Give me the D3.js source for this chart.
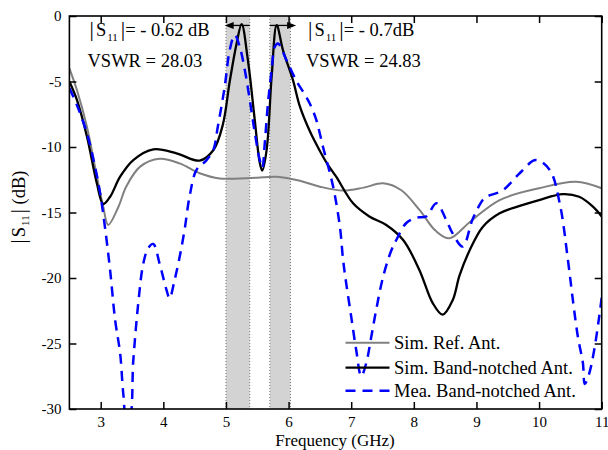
<!DOCTYPE html>
<html><head><meta charset="utf-8">
<script src="https://cdn.jsdelivr.net/npm/d3@7"></script>
<style>
html,body{margin:0;padding:0;background:#fff;}
svg{display:block;font-family:"Liberation Serif","Times New Roman",serif;}
</style></head>
<body><svg id="c" width="608" height="450"></svg>
<script>
// ---- data ----
const xTicks = [3,4,5,6,7,8,9,10,11];
const yTicks = [0,-5,-10,-15,-20,-25,-30];
const notchBands = [[5.0,5.38],[5.7,6.03]];
const simRef = [[2.5,-4.0],[2.62,-5.65],[2.78,-8.45],[2.94,-12.27],[3.04,-14.55],[3.12,-15.95],[3.28,-14.6],[3.41,-13.0],[3.63,-11.5],[3.94,-10.9],[4.26,-11.25],[4.58,-12.0],[4.90,-12.4],[5.22,-12.4],[5.5,-12.35],[5.81,-12.27],[6.18,-12.57],[6.5,-13.03],[6.87,-13.33],[7.2,-13.1],[7.51,-12.77],[7.8,-13.3],[8.09,-14.8],[8.35,-16.4],[8.57,-16.97],[8.9,-15.7],[9.37,-14.05],[10.0,-13.15],[10.59,-12.65],[11.0,-13.15]];
const simNotch = [[2.5,-5.0],[2.62,-6.4],[2.78,-9.2],[2.94,-12.8],[3.04,-14.35],[3.15,-13.8],[3.31,-12.27],[3.52,-11.0],[3.84,-10.18],[4.21,-10.48],[4.58,-11.04],[4.80,-10.23],[4.95,-8.3],[5.06,-5.0],[5.17,-2.1],[5.25,-0.62],[5.35,-3.36],[5.46,-7.94],[5.54,-11.2],[5.58,-11.8],[5.65,-10.2],[5.73,-4.6],[5.81,-0.7],[5.91,-2.6],[6.07,-4.9],[6.18,-6.9],[6.34,-8.8],[6.50,-10.3],[6.62,-11.3],[6.76,-12.27],[7.03,-14.3],[7.29,-15.3],[7.56,-15.95],[7.83,-17.1],[8.09,-19.4],[8.30,-21.9],[8.46,-22.8],[8.62,-21.7],[8.73,-19.8],[8.89,-17.9],[9.10,-16.1],[9.37,-15.06],[9.69,-14.5],[10.0,-14.05],[10.38,-13.6],[10.64,-13.8],[10.86,-14.55],[11.0,-15.3]];
const meaNotch = [[2.5,-5.5],[2.62,-6.8],[2.78,-8.95],[2.90,-11.3],[2.99,-13.5],[3.07,-16.2],[3.15,-19.4],[3.23,-23.2],[3.31,-25.75],[3.36,-28.8],[3.41,-30.6],[3.46,-30.6],[3.52,-26.3],[3.60,-21.9],[3.68,-18.9],[3.76,-17.7],[3.84,-17.4],[3.94,-18.9],[4.05,-20.9],[4.10,-21.55],[4.18,-20.15],[4.26,-18.4],[4.34,-16.3],[4.42,-13.75],[4.53,-11.75],[4.69,-11.0],[4.80,-10.2],[4.87,-8.45],[4.98,-5.4],[5.06,-2.6],[5.14,-1.45],[5.22,-2.35],[5.30,-4.1],[5.38,-6.4],[5.46,-8.9],[5.54,-11.0],[5.58,-11.6],[5.62,-9.7],[5.67,-6.7],[5.73,-4.1],[5.78,-2.35],[5.83,-2.1],[5.97,-3.4],[6.13,-5.0],[6.26,-6.0],[6.34,-6.7],[6.44,-7.9],[6.55,-10.0],[6.71,-13.0],[6.82,-16.1],[6.87,-18.6],[6.92,-20.4],[7.0,-22.95],[7.08,-25.5],[7.16,-27.5],[7.24,-26.5],[7.32,-24.5],[7.40,-22.4],[7.51,-19.9],[7.64,-17.9],[7.72,-17.1],[7.88,-15.8],[8.04,-15.4],[8.20,-15.3],[8.36,-14.3],[8.52,-15.6],[8.62,-16.6],[8.78,-17.6],[8.94,-15.5],[9.10,-14.05],[9.16,-13.8],[9.42,-13.3],[9.69,-12.0],[9.95,-11.0],[10.17,-11.75],[10.33,-14.3],[10.46,-18.6],[10.54,-21.7],[10.62,-24.5],[10.70,-26.5],[10.73,-28.1],[10.8,-27.3],[10.88,-25.5],[10.96,-22.95],[11.0,-21.5]];
const seriesNames = ["Sim. Ref. Ant.","Sim. Band-notched Ant.","Mea. Band-notched Ant."];
const notchS11 = ["- 0.62 dB","- 0.7dB"];
const notchVSWR = ["28.03","24.83"];

// ---- chart ----
const svg = d3.select("#c");
const x = d3.scaleLinear([2.5,11],[69.4,601.7]);
const y = d3.scaleLinear([-30,0],[409,16]);
const [x0,x1] = x.range(), [y0,y1] = y.range();

svg.append("defs").append("clipPath").attr("id","plot")
  .append("rect").attr("x",x0).attr("y",y1).attr("width",x1-x0).attr("height",y0-y1);

// bands
const bg = svg.append("g");
notchBands.forEach(b=>{
  bg.append("rect").attr("x",x(b[0])).attr("y",y1).attr("width",x(b[1])-x(b[0])).attr("height",y0-y1)
    .attr("fill","#d3d3d3");
  b.forEach(v=>bg.append("line").attr("x1",x(v)).attr("x2",x(v)).attr("y1",y1).attr("y2",y0)
    .attr("stroke","#777").attr("stroke-width",1).attr("stroke-dasharray","1,2"));
});

// curves
const line = d3.line().x(d=>x(d[0])).y(d=>y(d[1])).curve(d3.curveCatmullRom.alpha(0.5));
const cg = svg.append("g").attr("clip-path","url(#plot)");
const styles = [
  {data:simRef, stroke:"#808080", w:2, dash:null},
  {data:simNotch, stroke:"#000", w:2.3, dash:null},
  {data:meaNotch, stroke:"#0000ff", w:2.5, dash:"10,7"}
];
styles.forEach(s=>{
  cg.append("path").attr("d",line(s.data)).attr("fill","none").attr("stroke",s.stroke)
    .attr("stroke-width",s.w).attr("stroke-dasharray",s.dash);
});

// axes
const fontTick = 15;
const gx = svg.append("g").attr("transform",`translate(0,${y0})`)
  .call(d3.axisBottom(x).tickValues(xTicks).tickSizeInner(-7).tickSizeOuter(0).tickPadding(7.5).tickFormat(d=>String(d)));
const gy = svg.append("g").attr("transform",`translate(${x0},0)`)
  .call(d3.axisLeft(y).tickValues(yTicks).tickSizeInner(-7).tickSizeOuter(0).tickPadding(8).tickFormat(d=>String(d)));
const gt = svg.append("g").attr("transform",`translate(0,${y1})`)
  .call(d3.axisTop(x).tickValues(xTicks).tickSizeInner(-7).tickSizeOuter(0).tickFormat(""));
const gr = svg.append("g").attr("transform",`translate(${x1},0)`)
  .call(d3.axisRight(y).tickValues(yTicks).tickSizeInner(-7).tickSizeOuter(0).tickFormat(""));
[gx,gy,gt,gr].forEach(g=>{
  g.select(".domain").remove();
  g.selectAll("line").attr("stroke","#000").attr("stroke-width",1.5);
  g.selectAll("text").attr("fill","#000").attr("font-size",fontTick).attr("font-family","Liberation Serif, Times New Roman, serif");
});
svg.append("rect").attr("x",x0).attr("y",y1).attr("width",x1-x0).attr("height",y0-y1)
  .attr("fill","none").attr("stroke","#000").attr("stroke-width",1.6);

// axis labels
svg.append("text").attr("x",335).attr("y",446).attr("text-anchor","middle")
  .attr("font-size",17).text("Frequency (GHz)");
const yl = svg.append("text").attr("transform","translate(25,207) rotate(-90)").attr("text-anchor","middle")
  .attr("font-size",18.5);
yl.append("tspan").attr("font-size",21).text("|");
yl.append("tspan").attr("dx",2).text("S");
yl.append("tspan").attr("font-size",11).attr("dy",4).attr("dx",1).text("11");
yl.append("tspan").attr("dy",-4).attr("dx",2).attr("font-size",21).text("|");
yl.append("tspan").text(" (dB)");

// annotations
function ann(xp, s11, vswr){
  const t = svg.append("text").attr("x",xp).attr("y",36).attr("font-size",18.5);
  t.append("tspan").attr("font-size",22).text("|");
  t.append("tspan").attr("dx",2).text("S");
  t.append("tspan").attr("font-size",11).attr("dy",5).attr("dx",1).text("11");
  t.append("tspan").attr("dy",-5).attr("dx",3).attr("font-size",22).text("|");
  t.append("tspan").text("= "+s11);
  svg.append("text").attr("x",xp-2).attr("y",66.5).attr("font-size",18.5).text("VSWR = "+vswr);
}
ann(89.5, notchS11[0], notchVSWR[0]);
ann(308, notchS11[1], notchVSWR[1]);

// arrows
function arrow(fromF, toF, dB){
  const xa = x(fromF), xb = x(toF), yy = y(dB);
  const dir = Math.sign(xb-xa);
  svg.append("line").attr("x1",xa).attr("x2",xb-dir*6).attr("y1",yy).attr("y2",yy)
    .attr("stroke","#000").attr("stroke-width",1.3);
  svg.append("path").attr("d",`M${xb},${yy} L${xb-dir*9},${yy-3.5} L${xb-dir*9},${yy+3.5} Z`).attr("fill","#000");
}
arrow(notchBands[0][1], 4.98, -0.72);
arrow(notchBands[1][0], 6.12, -0.72);

// legend
const lg = svg.append("g");
const ly = [342.7, 367.7, 390.7];
styles.forEach((s,i)=>{
  lg.append("line").attr("x1",345.5).attr("x2",389.5).attr("y1",ly[i]).attr("y2",ly[i])
    .attr("stroke",s.stroke).attr("stroke-width",s.w).attr("stroke-dasharray",s.dash);
  lg.append("text").attr("x",394).attr("y",ly[i]+6.5).attr("font-size",18.5).text(seriesNames[i]);
});
</script></body></html>
